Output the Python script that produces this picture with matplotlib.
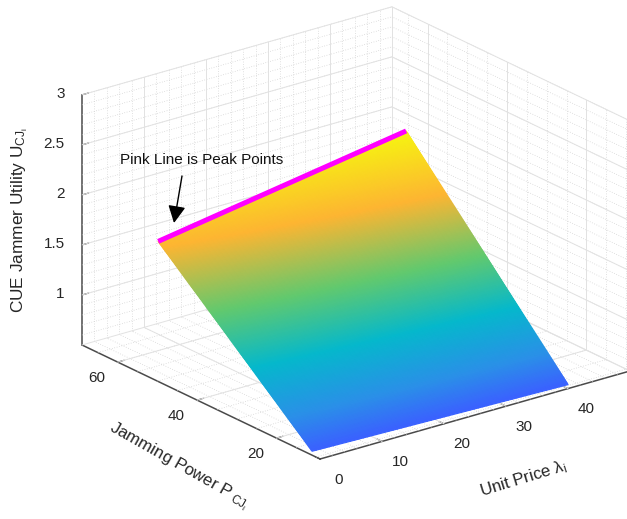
import numpy as np
import matplotlib
matplotlib.use("Agg")
import matplotlib.pyplot as plt
from matplotlib.colors import LinearSegmentedColormap
from mpl_toolkits.mplot3d import proj3d

plt.rcParams['font.family'] = ['Liberation Sans', 'DejaVu Sans']
plt.rcParams['mathtext.fontset'] = 'custom'
plt.rcParams['mathtext.rm'] = 'Liberation Sans'
plt.rcParams['mathtext.it'] = 'Liberation Sans'
plt.rcParams['mathtext.default'] = 'regular'

# ---- data
price_values = [0, 10, 20, 30, 40]
peak_power = [49.8, 49.8, 49.8, 49.8, 49.8]
peak_utility = [1.90, 2.00, 2.10, 2.20, 2.30]
low_power = [11, 10.5, 10, 9.5, 9]
low_utility = [0.54, 0.54, 0.54, 0.54, 0.54]

x_ticks = [0, 10, 20, 30, 40]
y_ticks = [20, 40, 60]
z_ticks = [1, 1.5, 2, 2.5, 3]
z_ticklabels = ['1', '1.5', '2', '2.5', '3']
x_lim = (0, 50)
y_lim = (9, 69)
z_lim = (0.5, 3)

color_levels = [0.54, 0.75, 1.07, 1.43, 1.85, 2.30]
color_stops = ['#3a62ff', '#2a90e8', '#05b8cc', '#62c96e', '#fdb532', '#f6f70f']

W, H = 627, 519
fig = plt.figure(figsize=(W / 100, H / 100), dpi=100)
ax = fig.add_axes([0.05, 0.05, 0.9, 0.9], projection='3d', computed_zorder=False)
ax.set_proj_type('ortho')
ax.view_init(elev=21.64, azim=-127.6)
ax.set_box_aspect((391, 390, 269))
ax.set_xlim(*x_lim); ax.set_ylim(*y_lim); ax.set_zlim(*z_lim)
ax.set_xticks(x_ticks); ax.set_yticks(y_ticks); ax.set_zticks(z_ticks)
ax.set_zticklabels(z_ticklabels)
ax.grid(False)
ax.tick_params(labelsize=11, colors='#262626')

for axis in (ax.xaxis, ax.yaxis, ax.zaxis):
    axis.set_pane_color((1, 1, 1, 0))
    axis.pane.set_edgecolor((1, 1, 1, 0))
    axis.line.set_color('#4a4a4a')
    axis.line.set_linewidth(1.1)
    axis._axinfo['tick']['inward_factor'] = 0.0
    axis._axinfo['tick']['outward_factor'] = 0.25
    axis._axinfo['tick']['linewidth'] = {True: 0.8, False: 0.5}
    axis._axinfo['tick']['color'] = '#444444'
ax.tick_params(axis='x', pad=9)
ax.tick_params(axis='y', pad=7)
ax.tick_params(axis='z', pad=-1)
plt.setp(ax.xaxis.get_majorticklabels(), va='bottom', ha='center')
plt.setp(ax.yaxis.get_majorticklabels(), va='bottom', ha='center')
plt.setp(ax.zaxis.get_majorticklabels(), va='center', ha='right')

# ---- wall grids (matplotlib's 3D grid has no minor lines)
maj = dict(color='#e2e2e2', lw=0.7, zorder=1)
mnr = dict(color='#cfcfcf', lw=0.55, ls=(0, (1, 2.2)), zorder=0.9)
x0, x1 = x_lim; y0, y1 = y_lim; z0, z1 = z_lim
x_major = np.arange(10, 51, 10); x_minor = np.arange(2, 51, 2)
y_major = np.arange(20, 61, 20); y_minor = np.arange(10, 69, 5)
z_major = np.arange(1.0, 3.01, 0.5); z_minor = np.arange(0.6, 3.01, 0.1)
for vals, st in ((x_minor, mnr), (x_major, maj)):
    for v in vals:
        ax.plot([v, v], [y0, y1], [z0, z0], **st)
        ax.plot([v, v], [y1, y1], [z0, z1], **st)
for vals, st in ((y_minor, mnr), (y_major, maj)):
    for v in vals:
        ax.plot([x0, x1], [v, v], [z0, z0], **st)
        ax.plot([x1, x1], [v, v], [z0, z1], **st)
for vals, st in ((z_minor, mnr), (z_major, maj)):
    for v in vals:
        ax.plot([x0, x1], [y1, y1], [v, v], **st)
        ax.plot([x1, x1], [y0, y1], [v, v], **st)
ax.plot([x1, x1], [y1, y1], [z0, z1], **maj)
ax.plot([x0, x1], [y1, y1], [z0, z0], **maj)
ax.plot([x1, x1], [y0, y1], [z0, z0], **maj)
ax.plot([x1, x1], [y0, y0], [z0, z1], **maj)

# ---- surface: the edges read above, subdivided only to render the gradient
cmap = LinearSegmentedColormap.from_list(
    'surf', [((l - color_levels[0]) / (color_levels[-1] - color_levels[0]), c)
             for l, c in zip(color_levels, color_stops)], N=512)
t = np.linspace(0, 1, 161)[:, None]
s = np.linspace(0, 40, 61)
lo_p = np.interp(s, price_values, low_power); hi_p = np.interp(s, price_values, peak_power)
lo_u = np.interp(s, price_values, low_utility); hi_u = np.interp(s, price_values, peak_utility)
X = np.tile(s, (t.size, 1))
Y = lo_p + t * (hi_p - lo_p)
Z = lo_u + t * (hi_u - lo_u)
norm = plt.Normalize(color_levels[0], color_levels[-1])
fc = cmap(norm(Z))
surf = ax.plot_surface(X, Y, Z, facecolors=fc, rstride=1, cstride=1, shade=False,
                       linewidth=0.9, antialiased=True, zorder=2)
ax.plot(price_values, peak_power, peak_utility, color='#ff00ff', lw=3.6,
        solid_capstyle='butt', zorder=3)

# ---- place the box on the reference pixels
def to_px(x, y, z):
    a, b, _ = proj3d.proj_transform(x, y, z, ax.get_proj())
    return ax.transData.transform((a, b))

target_left_x, target_right_x, target_front_y = 82, 630, H - 459
pos = [0.05 * W, 0.05 * H, 500.0]
for _ in range(4):
    ax.set_position([pos[0] / W, pos[1] / H, pos[2] / W, pos[2] / H])
    fig.canvas.draw()
    pl = to_px(x0, y1, z0); pr = to_px(x1, y0, z0); pf = to_px(x0, y0, z0)
    k = (target_right_x - target_left_x) / (pr[0] - pl[0])
    cx = pos[0] + pos[2] / 2; cy = pos[1] + pos[2] / 2
    new_cx = target_left_x + (cx - pl[0]) * k
    new_cy = target_front_y + (cy - pf[1]) * k
    pos[2] *= k
    pos[0] = new_cx - pos[2] / 2
    pos[1] = new_cy - pos[2] / 2
ax.set_position([pos[0] / W, pos[1] / H, pos[2] / W, pos[2] / H])

# ---- texts
fig.text(20 / W, 1 - 220 / H, r'CUE Jammer Utility U$_{CJ_{i}}$', rotation=90,
         ha='center', va='center', fontsize=12.4, color='#262626')
fig.text(179 / W, 1 - 466 / H, r'Jamming Power P$_{\ CJ_{i}}$', rotation=-29.5,
         ha='center', va='center', fontsize=12.2, color='#262626', rotation_mode='anchor')
fig.text(523 / W, 1 - 479 / H, r'Unit Price $\lambda_{i}$', rotation=17,
         ha='center', va='center', fontsize=12.2, color='#262626', rotation_mode='anchor')
fig.text(202 / W, 1 - 160 / H, 'Pink Line is Peak Points', ha='center', va='center',
         fontsize=11, color='#111111')
fig.patches.append(matplotlib.patches.FancyArrowPatch(
    (182 / W, 1 - 176 / H), (174 / W, 1 - 223 / H), transform=fig.transFigure,
    arrowstyle='-|>,head_length=0.75,head_width=0.38', mutation_scale=14,
    color='black', lw=1.0, shrinkA=0, shrinkB=0, figure=fig))

fig.savefig('out.png', dpi=100)
